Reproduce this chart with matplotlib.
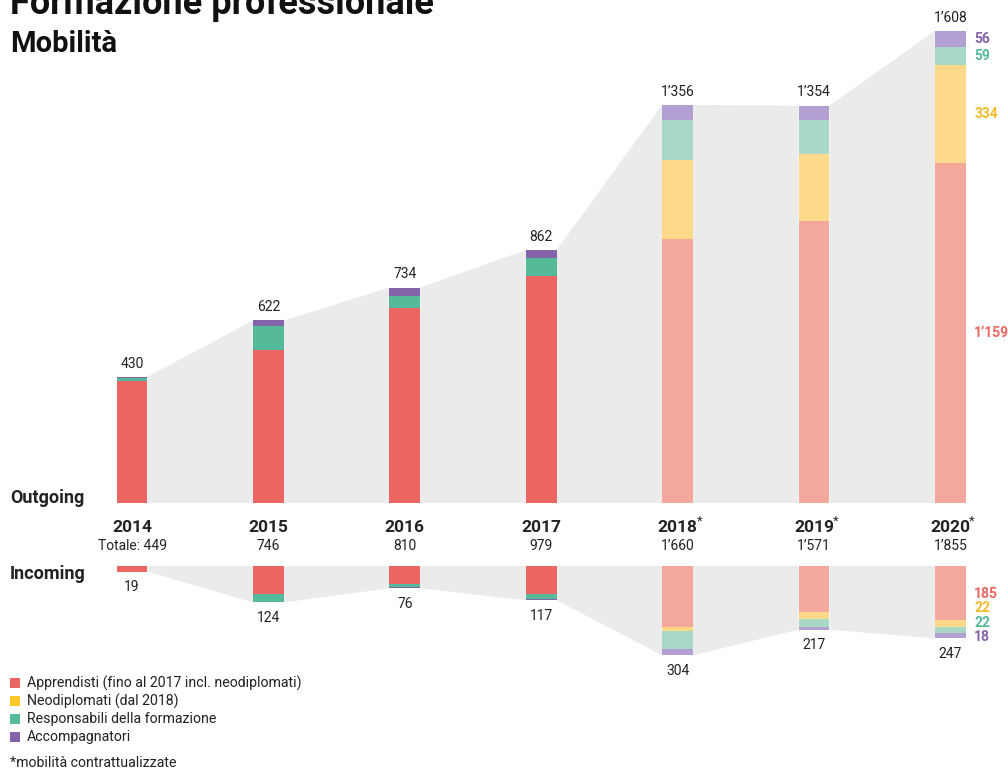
import matplotlib
matplotlib.use("Agg")
import matplotlib.pyplot as plt
from matplotlib.patches import Polygon, Rectangle

plt.rcParams['font.family'] = ['Roboto', 'DejaVu Sans']

# ---------------- data ----------------
years = ['2014', '2015', '2016', '2017', '2018', '2019', '2020']
contracted = [False, False, False, False, True, True, True]

out_app = [414, 520, 664, 772, 900, 962, 1159]
out_neo = [0, 0, 0, 0, 269, 228, 334]
out_resp = [12, 84, 42, 64, 136, 116, 59]
out_acc = [4, 18, 28, 26, 51, 48, 56]
out_tot = [430, 622, 734, 862, 1356, 1354, 1608]

in_app = [19, 96, 61, 96, 209, 158, 185]
in_neo = [0, 0, 0, 0, 12, 24, 22]
in_resp = [0, 26, 10, 15, 63, 25, 22]
in_acc = [0, 2, 5, 6, 20, 10, 18]
in_tot = [19, 124, 76, 117, 304, 217, 247]

grand_tot = [449, 746, 810, 979, 1660, 1571, 1855]

legend_labels = ['Apprendisti (fino al 2017 incl. neodiplomati)',
                 'Neodiplomati (dal 2018)',
                 'Responsabili della formazione',
                 'Accompagnatori']

# ---------------- style ----------------
W, H = 1008, 769
C_FULL = ['#EC6661', '#FFC629', '#55BA9A', '#8463AB']
C_PALE = ['#F4A89B', '#FED98A', '#A8D9C6', '#B3A0D2']
C_LABEL = ['#EC6661', '#F5BC2A', '#55BA9A', '#8463AB']
GRAY = '#EBEBEB'
TXT = '#222222'

BASE_PX = 503          # outgoing baseline pixel row
UPP = 3.407            # data units per pixel
X0_PX, DX_PX = 132, 136.4
BW = 0.227
GAP = 63 * UPP         # gap between outgoing and incoming baselines


def fmt(v):
    s = f"{v:,}"
    return s.replace(",", "\u2019")


def py(p):
    return (BASE_PX - p) * UPP


fig = plt.figure(figsize=(W / 100, H / 100), dpi=100)
ax = fig.add_axes([0, 0, 1, 1])
ax.set_xlim(-X0_PX / DX_PX, (W - X0_PX) / DX_PX)
ax.set_ylim(py(H), py(0))
ax.axis('off')

n = len(years)
xs = list(range(n))

# gray connecting areas
for i in range(n - 1):
    xa = xs[i] + BW / 2
    xb = xs[i + 1] - BW / 2
    ax.add_patch(Polygon([(xa, 0), (xa, out_tot[i]), (xb, out_tot[i + 1]), (xb, 0)],
                         closed=True, facecolor=GRAY, edgecolor='none', zorder=1))
    ax.add_patch(Polygon([(xa, -GAP), (xa, -GAP - in_tot[i]),
                          (xb, -GAP - in_tot[i + 1]), (xb, -GAP)],
                         closed=True, facecolor=GRAY, edgecolor='none', zorder=1))

out_series = [out_app, out_neo, out_resp, out_acc]
in_series = [in_app, in_neo, in_resp, in_acc]

for i in range(n):
    cols = C_PALE if contracted[i] else C_FULL
    bottom = 0
    for k, s in enumerate(out_series):
        if s[i] > 0:
            ax.bar(xs[i], s[i], BW, bottom=bottom, color=cols[k], zorder=2, linewidth=0)
        bottom += s[i]
    top = -GAP
    for k, s in enumerate(in_series):
        if s[i] > 0:
            ax.bar(xs[i], -s[i], BW, bottom=top, color=cols[k], zorder=2, linewidth=0)
        top -= s[i]

    # total labels
    ax.annotate(fmt(out_tot[i]), (xs[i], out_tot[i]), xytext=(0, 4.5),
                textcoords='offset points', ha='center', va='bottom',
                fontsize=10, color=TXT)
    ax.annotate(fmt(in_tot[i]), (xs[i], -GAP - in_tot[i]), xytext=(0, -6),
                textcoords='offset points', ha='center', va='top',
                fontsize=10, color=TXT)
    # year labels
    ax.text(xs[i], py(532), years[i], ha='center', va='baseline',
            fontsize=12.5, fontweight='bold', color=TXT)
    if contracted[i]:
        ax.annotate('*', (xs[i], py(532)), xytext=(13.5, 5.5), textcoords='offset points',
                    ha='left', va='baseline', fontsize=9.5, color=TXT)
    lab = ("Totale: " if i == 0 else "") + fmt(grand_tot[i])
    ax.text(xs[i], py(550), lab, ha='center', va='baseline', fontsize=10, color=TXT)

# right-side labels for last year, outgoing
last = n - 1
xr = xs[last] + BW / 2
bottom = 0
for k, s in enumerate(out_series):
    v = s[last]
    ax.annotate(fmt(v), (xr, bottom + v / 2), xytext=(6, 0), textcoords='offset points',
                ha='left', va='center', fontsize=10, fontweight='bold', color=C_LABEL[k])
    bottom += v

# right-side labels incoming, stacked
y_last = -GAP - in_tot[last] + in_acc[last] / 2
step = 14.5 * UPP
for j, k in enumerate([3, 2, 1, 0]):
    v = in_series[k][last]
    ax.annotate(fmt(v), (xr, y_last + j * step - 1.5 * UPP), xytext=(6, 0),
                textcoords='offset points', ha='left', va='center',
                fontsize=10, fontweight='bold', color=C_LABEL[k])

# section labels
ax.text(-X0_PX / DX_PX + 10 / DX_PX, py(503), 'Outgoing', ha='left', va='baseline',
        fontsize=13, fontweight='bold', color=TXT)
ax.text(-X0_PX / DX_PX + 10 / DX_PX, py(579), 'Incoming', ha='left', va='baseline',
        fontsize=13, fontweight='bold', color=TXT)

# titles
fig.text(10 / W, 1 - 14 / H, 'Formazione professionale', ha='left', va='baseline',
         fontsize=26, fontweight='bold', color='#111111')
fig.text(10 / W, 1 - 52 / H, 'Mobilità', ha='left', va='baseline',
         fontsize=21, fontweight='bold', color='#111111')

# legend
rows = [683, 701, 719, 737]
for k, lab in enumerate(legend_labels):
    fig.patches.append(Rectangle((10 / W, 1 - (rows[k] + 5) / H), 10 / W, 10 / H,
                                 transform=fig.transFigure, facecolor=C_FULL[k],
                                 edgecolor='none'))
    fig.text(27 / W, 1 - rows[k] / H, lab, ha='left', va='center', fontsize=10.2, color=TXT)
fig.text(10 / W, 1 - 763 / H, '*mobilità contrattualizzate', ha='left', va='center',
         fontsize=10.2, color=TXT)

fig.savefig('out.png', dpi=100)
